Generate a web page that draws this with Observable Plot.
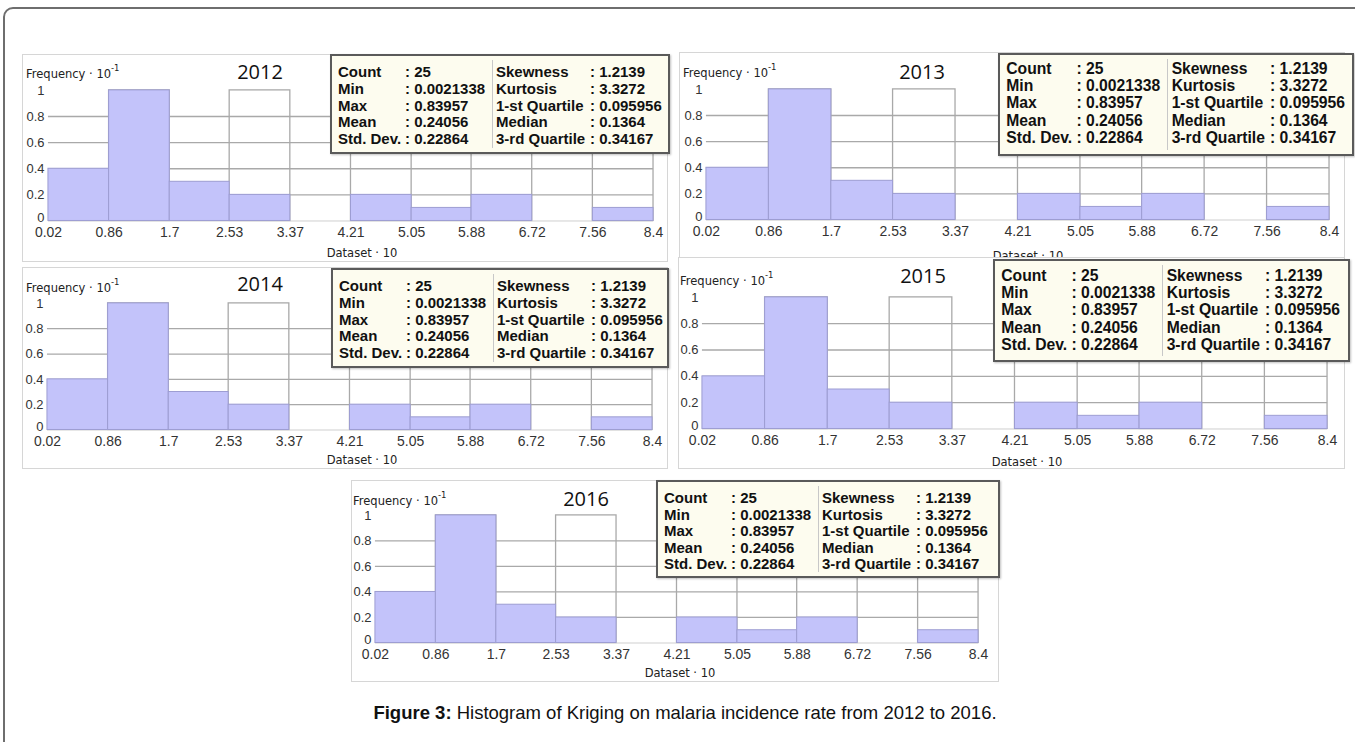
<!DOCTYPE html>
<html>
<head>
<meta charset="utf-8">
<script src="https://cdn.jsdelivr.net/npm/d3@7"></script>
<script src="https://cdn.jsdelivr.net/npm/@observablehq/plot@0.6"></script>
<style>
  html, body { margin: 0; padding: 0; background: #fff; }
  #page { position: relative; width: 1355px; height: 742px; overflow: hidden; background: #fff; }
  .frame { position: absolute; left: 3px; top: 7px; width: 1420px; height: 820px; border: 2px solid #6e6e6e; border-top-left-radius: 10px; box-sizing: border-box; }
  .panel { position: absolute; background: #fff; border: 1px solid #d6d6d6; box-sizing: border-box; }
  .panel svg { position: absolute; left: 0; top: 0; }
  .lbl { position: absolute; white-space: nowrap; }
  .title { font-family: "Open Sans", sans-serif; font-size: 20px; color: #111; transform: translate(-50%, -50%); }
  .freq { font-family: "DejaVu Sans", sans-serif; font-size: 11.5px; color: #222; transform: translateY(-50%); }
  .freq sup { font-size: 8.5px; position: relative; top: -2px; }
  .dataset { font-family: "DejaVu Sans", sans-serif; font-size: 11.5px; color: #222; transform: translate(-50%, -50%); }
  .stats { position: absolute; background: #fdfcef; border: 2px solid #5a5a5a; box-sizing: border-box; box-shadow: 1px 1px 2px rgba(0,0,0,0.25); font-family: "Liberation Sans", Arial, sans-serif; font-weight: bold; color: #111; }
  .stats span { position: absolute; white-space: nowrap; transform: translateY(-50%); }
  .stats .sep { position: absolute; width: 1px; background: #c8c8c8; }
  .caption { position: absolute; left: 0; width: 1370px; text-align: center; font-family: "Liberation Sans", Arial, sans-serif; font-size: 18.5px; color: #111; transform: translateY(-50%); }
</style>
</head>
<body>
<div id="page">
  <div class="frame"></div>
</div>
<script>
// ---------- data ----------
const years = ["2012", "2013", "2014", "2015", "2016"];
const binEdges = [0.02, 0.86, 1.7, 2.53, 3.37, 4.21, 5.05, 5.88, 6.72, 7.56, 8.4];
const yTicks = [0, 0.2, 0.4, 0.6, 0.8, 1];
const freq2012 = [0.4, 1, 0.3, 0.2, 0, 0.2, 0.1, 0.2, 0, 0.1];
const freq2013 = [0.4, 1, 0.3, 0.2, 0, 0.2, 0.1, 0.2, 0, 0.1];
const freq2014 = [0.4, 1, 0.3, 0.2, 0, 0.2, 0.1, 0.2, 0, 0.1];
const freq2015 = [0.4, 1, 0.3, 0.2, 0, 0.2, 0.1, 0.2, 0, 0.1];
const freq2016 = [0.4, 1, 0.3, 0.2, 0, 0.2, 0.1, 0.2, 0, 0.1];
const statLabelsLeft = ["Count", "Min", "Max", "Mean", "Std. Dev."];
const statValuesLeft = ["25", "0.0021338", "0.83957", "0.24056", "0.22864"];
const statLabelsRight = ["Skewness", "Kurtosis", "1-st Quartile", "Median", "3-rd Quartile"];
const statValuesRight = ["1.2139", "3.3272", "0.095956", "0.1364", "0.34167"];
const yAxisLabel = "Frequency \u00b7 10";
const xAxisLabel = "Dataset \u00b7 10";
const captionBold = "Figure 3:";
const captionText = " Histogram of Kriging on malaria incidence rate from 2012 to 2016.";

// ---------- layout ----------
const layouts = [
  {year: years[0], freq: freq2012, left: 22, top: 54, width: 646, height: 208, px0: 47, px1: 654, py1: 89, py0: 220,
   title: [260, 71], freqLbl: [26, 73], ds: [362, 253], box: {left: 330, top: 54, width: 340, height: 100, font: 15, row0: 17, rowStep: 16.8}},
  {year: years[1], freq: freq2013, left: 679, top: 52, width: 666, height: 215, px0: 705, px1: 1330, py1: 88, py0: 219,
   title: [922, 71], freqLbl: [683, 72], ds: [1028, 256], box: {left: 998, top: 53, width: 356, height: 103, font: 15.7, row0: 16, rowStep: 17.2}},
  {year: years[2], freq: freq2014, left: 22, top: 267, width: 646, height: 202, px0: 46, px1: 653, py1: 302, py0: 429,
   title: [260, 283], freqLbl: [26, 287], ds: [362, 460], box: {left: 331, top: 268, width: 338, height: 100, font: 15, row0: 17, rowStep: 16.8}},
  {year: years[3], freq: freq2015, left: 678, top: 257, width: 667, height: 212, px0: 701, px1: 1328, py1: 296, py0: 428,
   title: [923, 275], freqLbl: [680, 280], ds: [1027, 462], box: {left: 993, top: 259, width: 357, height: 103, font: 15.7, row0: 17, rowStep: 17.2}},
  {year: years[4], freq: freq2016, left: 351, top: 480, width: 648, height: 202, px0: 374, px1: 979, py1: 514, py0: 642,
   title: [586, 498], freqLbl: [353, 500], ds: [680, 673], box: {left: 656, top: 480, width: 344, height: 98, font: 15, row0: 17, rowStep: 16.5}}
];

const page = document.getElementById("page");

function addLabel(parent, cls, html, x, y) {
  const d = document.createElement("div");
  d.className = "lbl " + cls;
  d.innerHTML = html;
  d.style.left = x + "px";
  d.style.top = y + "px";
  parent.appendChild(d);
  return d;
}

for (const L of layouts) {
  const panel = document.createElement("div");
  panel.className = "panel";
  Object.assign(panel.style, {left: L.left + "px", top: L.top + "px", width: L.width + "px", height: L.height + "px"});
  page.appendChild(panel);
  // the 2013 dataset label sits under the 2015 panel, so labels are added before later panels
  addLabel(page, "title", L.year, L.title[0], L.title[1]);
  addLabel(page, "freq", yAxisLabel + "<sup>-1</sup>", L.freqLbl[0], L.freqLbl[1]);
  addLabel(page, "dataset", xAxisLabel, L.ds[0], L.ds[1]);

  const bins = L.freq.map((f, i) => ({x1: binEdges[i], x2: binEdges[i + 1], f}));
  const gridCells = bins.filter((d, i) => i % 2 === 1);
  const bars = bins.filter(d => d.f > 0);

  const chart = Plot.plot({
    width: L.width,
    height: L.height,
    marginLeft: L.px0 - L.left,
    marginRight: L.left + L.width - L.px1,
    marginTop: L.py1 - L.top,
    marginBottom: L.top + L.height - L.py0,
    x: {domain: [binEdges[0], binEdges[binEdges.length - 1]]},
    y: {domain: [0, 1]},
    style: {fontFamily: "'Liberation Sans', Arial, sans-serif", fontSize: "14px", color: "#333", background: "transparent", overflow: "visible"},
    marks: [
      Plot.rect(gridCells, {x1: "x1", x2: "x2", y1: 0, y2: 1, fill: "white", stroke: "#a9a9a9", strokeWidth: 1.3}),
      Plot.ruleY([0.2, 0.4, 0.6, 0.8], {stroke: "#a9a9a9", strokeWidth: 1.3}),
      Plot.ruleY([0], {stroke: "#cfcfcf"}),
      Plot.rect(bars, {x1: "x1", x2: "x2", y1: 0, y2: "f", fill: "#c3c3fa", stroke: "#9d9dd2", strokeWidth: 1}),
      Plot.axisX({ticks: binEdges, tickSize: 0, tickPadding: 6, tickFormat: d => String(d), label: null}),
      Plot.axisY({ticks: yTicks.filter(d => d > 0), tickSize: 0, tickPadding: 4, tickFormat: d => String(d), label: null}),
      Plot.axisY({ticks: yTicks.filter(d => d === 0), tickSize: 0, tickPadding: 4, dy: -3, tickFormat: d => String(d), label: null})
    ]
  });
  d3.select(chart).selectAll("[aria-label='y-axis tick label'] text").style("font-size", "13px");
  d3.select(chart).selectAll("[aria-label='x-axis tick label'] text").style("font-size", "14px");
  panel.appendChild(chart);

  const B = L.box;
  const s = B.font / 15;
  const box = document.createElement("div");
  box.className = "stats";
  Object.assign(box.style, {left: B.left + "px", top: B.top + "px", width: B.width + "px", height: B.height + "px", fontSize: B.font + "px"});
  const sep = document.createElement("div");
  sep.className = "sep";
  Object.assign(sep.style, {left: (160 * s) + "px", top: "4px", height: (B.height - 12) + "px"});
  box.appendChild(sep);
  const cols = [[statLabelsLeft, 6], [statValuesLeft.map(v => ": " + v), 73], [statLabelsRight, 164], [statValuesRight.map(v => ": " + v), 258]];
  for (const [arr, off] of cols) {
    arr.forEach((t, i) => {
      const sp = document.createElement("span");
      sp.textContent = t;
      sp.style.left = (off * s) + "px";
      sp.style.top = (B.row0 + i * B.rowStep - 2) + "px";
      box.appendChild(sp);
    });
  }
  page.appendChild(box);
}

const cap = document.createElement("div");
cap.className = "caption";
cap.style.top = "713px";
cap.innerHTML = "<b>" + captionBold + "</b>" + captionText;
page.appendChild(cap);
</script>
</body>
</html>
